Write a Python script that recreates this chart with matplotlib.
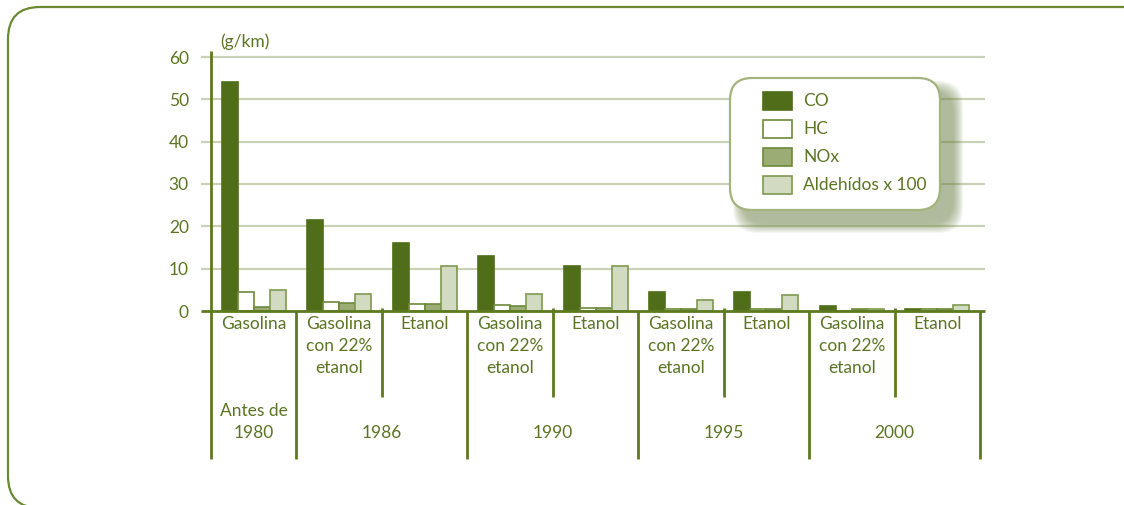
import matplotlib.pyplot as plt
from matplotlib.patches import FancyBboxPatch, Rectangle

# --------------------------
# Data
# --------------------------
fuel_labels = ["Gasolina", "Gasolina\ncon 22%\netanol", "Etanol",
               "Gasolina\ncon 22%\netanol", "Etanol",
               "Gasolina\ncon 22%\netanol", "Etanol",
               "Gasolina\ncon 22%\netanol", "Etanol"]
periods = ["Antes de\n1980", "1986", "1990", "1995", "2000"]
period_sizes = [1, 2, 2, 2, 2]

series_names = ["CO", "HC", "NOx", "Aldehídos x 100"]
co = [54.2, 21.6, 16.0, 13.0, 10.7, 4.5, 4.5, 1.2, 0.5]
hc = [4.5, 2.1, 1.6, 1.3, 0.8, 0.5, 0.5, 0.0, 0.5]
nox = [1.0, 1.9, 1.7, 1.2, 0.8, 0.5, 0.5, 0.5, 0.5]
ald = [5.0, 3.9, 10.6, 3.9, 10.6, 2.5, 3.7, 0.5, 1.4]

yticks = [0, 10, 20, 30, 40, 50, 60]

# --------------------------
# Style
# --------------------------
W, H, DPI = 1124, 505, 100
TXT = "#5b7524"
AXC = "#5d7a1f"
GRID = "#c9d2b6"
FILLS = ["#506e19", "#ffffff", "#9bad74", "#d2dbc2"]
EDGES = ["#506e19", "#6d8a3a", "#6d8a3a", "#7f9a50"]
FONT = "Lato"
FS = 12.5

plt.rcParams["font.family"] = [FONT, "DejaVu Sans"]

fig = plt.figure(figsize=(W / DPI, H / DPI), dpi=DPI)

# pixel geometry of the plot area
x0_px, x1_px = 211, 980
y0_px, ytop_px = 311, 51
px_per_unit = 254 / 60.0
ax = fig.add_axes([x0_px / W, 1 - y0_px / H, (x1_px - x0_px) / W, (y0_px - ytop_px) / H])
ax.set_xlim(0, len(fuel_labels))
ax.set_ylim(0, (y0_px - ytop_px) / px_per_unit)
for s in ax.spines.values():
    s.set_visible(False)
ax.set_xticks([])
ax.set_yticks(yticks)
ax.set_yticklabels([str(t) for t in yticks], color=TXT, fontsize=FS)
ax.tick_params(axis="y", length=0, pad=16)

px_x = (x1_px - x0_px) / len(fuel_labels)


def py2data(py):
    return (y0_px - py) / px_per_unit


# gridlines (extend a little left of the axis)
gx0 = -10 / px_x
gx1 = len(fuel_labels) + 5 / px_x
for t in yticks[1:]:
    ax.hlines(t, gx0, gx1, color=GRID, lw=1.6, clip_on=False, zorder=1)

# bars
values = [co, hc, nox, ald]
bw = 16 / px_x
offsets = [-1.5 * bw, -0.5 * bw, 0.5 * bw, 1.5 * bw]
for k, vals in enumerate(values):
    xs = [i + 0.5 + offsets[k] for i in range(len(vals))]
    ax.bar(xs, vals, width=bw, color=FILLS[k], edgecolor=EDGES[k],
           linewidth=1.2, zorder=3)

# axes lines
ax.hlines(0, gx0, gx1, color=AXC, lw=2, clip_on=False, zorder=4)
ax.vlines(0, py2data(459), py2data(ytop_px), color=AXC, lw=2, clip_on=False, zorder=4)

# table separators below axis
bounds = [0]
for n in period_sizes:
    bounds.append(bounds[-1] + n)
for b in bounds[1:]:
    ax.vlines(b, py2data(459), 0, color=AXC, lw=2, clip_on=False, zorder=4)
for b, n in zip(bounds[1:-1], period_sizes[1:]):
    ax.vlines(b + 1, py2data(397), py2data(308), color=AXC, lw=2, clip_on=False, zorder=4)

# category labels
for i, lab in enumerate(fuel_labels):
    ax.text(i + 0.5, py2data(316), lab, ha="center", va="top", color=TXT,
            fontsize=FS, linespacing=1.48, clip_on=False)

# period labels
for j, lab in enumerate(periods):
    cx = (bounds[j] + bounds[j + 1]) / 2
    ax.text(cx, py2data(441), lab, ha="center", va="bottom", color=TXT,
            fontsize=FS, linespacing=1.48, clip_on=False)

# unit label
fig.text(220 / W, 1 - 42 / H, "(g/km)", ha="left", va="center", color=TXT, fontsize=FS)

# outer rounded frame (pixel coords -> inches); right/bottom edges run off the image
inch = fig.dpi_scale_trans
frame = FancyBboxPatch((8 / DPI, -3 / DPI), (1200 - 8) / DPI, (498 + 3) / DPI,
                       boxstyle="round,pad=0,rounding_size=0.32",
                       transform=inch, fill=False, edgecolor="#6a8a32", lw=1.6,
                       clip_on=False, zorder=0)
fig.patches.append(frame)

# legend box with soft shadow
lx, ly_top, lw_, lh = 730, 78, 210, 132
lb = H - ly_top - lh
for s in range(10, 0, -1):
    shadow = FancyBboxPatch(((lx + 13 - s) / DPI, (lb - 13 - s) / DPI),
                            (lw_ + 2 * s) / DPI, (lh + 2 * s) / DPI,
                            boxstyle="round,pad=0,rounding_size=0.25",
                            transform=inch, facecolor="#6f8448", edgecolor="none",
                            alpha=0.07, zorder=5)
    fig.patches.append(shadow)
box = FancyBboxPatch((lx / DPI, lb / DPI), lw_ / DPI, lh / DPI,
                     boxstyle="round,pad=0,rounding_size=0.22",
                     transform=inch, facecolor="white", edgecolor="#a2b37c",
                     lw=1.6, zorder=6)
fig.patches.append(box)

for k, name in enumerate(series_names):
    cy = 101 + 28 * k
    sw = Rectangle((763 / DPI, (H - cy - 9) / DPI), 29 / DPI, 18 / DPI,
                   transform=inch, facecolor=FILLS[k], edgecolor=EDGES[k],
                   lw=1.2, zorder=7)
    fig.patches.append(sw)
    fig.text(803 / W, 1 - cy / H, name, ha="left", va="center", color=TXT,
             fontsize=FS, zorder=8)

fig.savefig("out.png", dpi=DPI)
